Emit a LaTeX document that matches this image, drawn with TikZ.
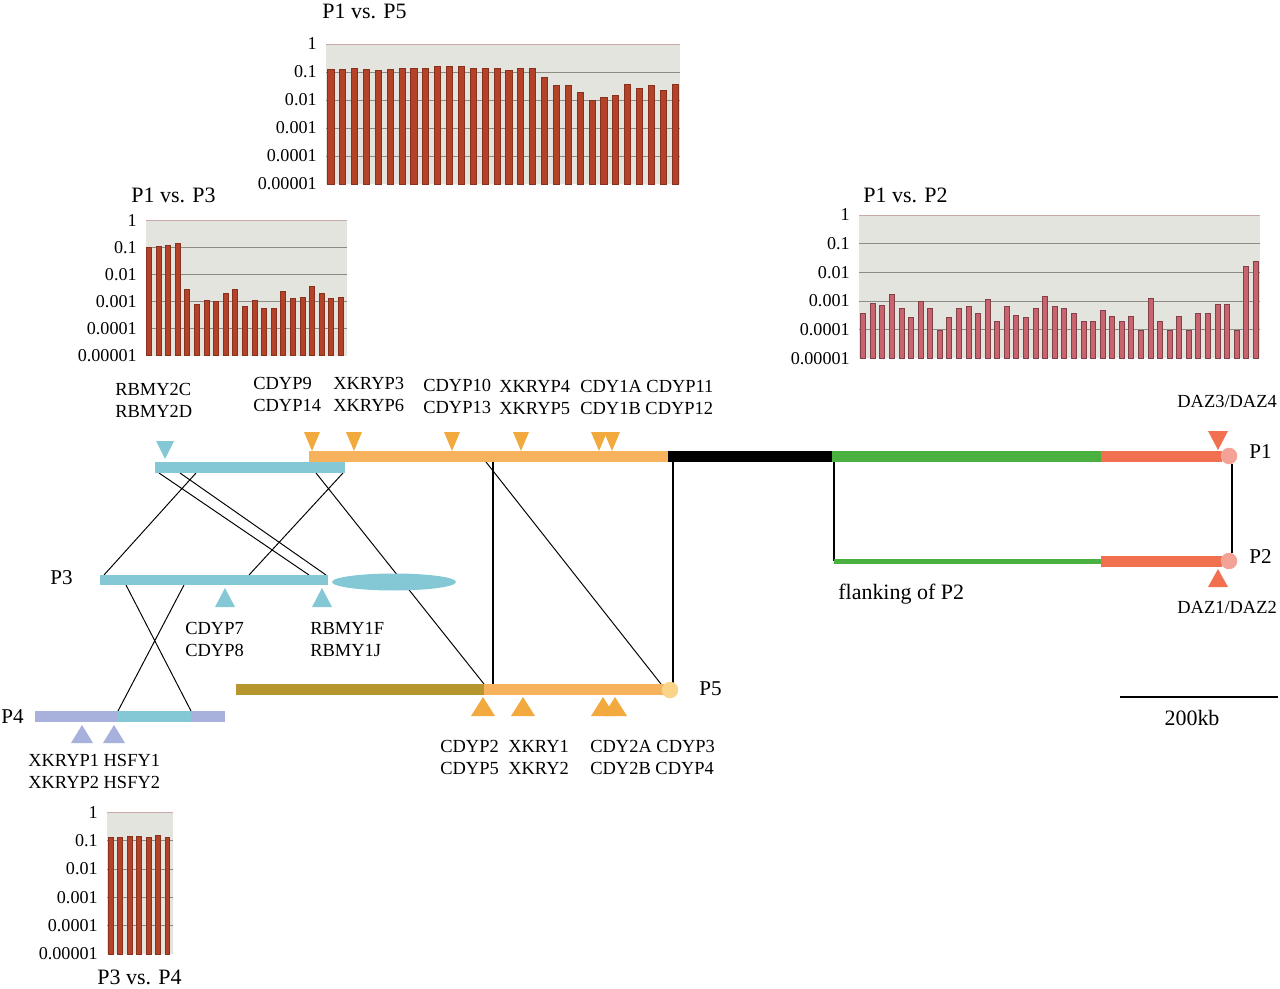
\documentclass[tikz,border=0pt]{standalone}
\usepackage{fontspec}
\setmainfont{Liberation Serif}
\usepackage{tikz}

\definecolor{rbmyblue}{RGB}{132,200,214}
\definecolor{cdyorange}{RGB}{246,178,92}
\definecolor{trorange}{RGB}{242,170,62}
\definecolor{flankgreen}{RGB}{74,176,64}
\definecolor{dazred}{RGB}{240,112,80}
\definecolor{dazpink}{RGB}{244,162,150}
\definecolor{p5olive}{RGB}{184,150,46}
\definecolor{p5cap}{RGB}{250,212,136}
\definecolor{p4lilac}{RGB}{168,176,220}
\definecolor{panelgrey}{RGB}{228,228,222}
\definecolor{gridgrey}{RGB}{140,140,132}
\definecolor{toprose}{RGB}{200,168,168}
\definecolor{barbrick}{RGB}{180,66,40}
\definecolor{barrose}{RGB}{200,100,110}

\newcommand{\logchart}[9]{%
  \fill[panel] (#1,#2) rectangle (#3,{#2+5*#4});
  \foreach \k in {1,...,4}
    \draw[gridline] (#1,{#2+\k*#4}) -- (#3,{#2+\k*#4});
  \draw[topline] (#1,#2) -- (#3,#2);
  \foreach \v [count=\i from 0] in {#8}
    \draw[#7] ({#5+\i*#6-0.26*#6},{#2+5*#4}) rectangle ({#5+\i*#6+0.26*#6},{#2+\v*#4});
  \foreach \t [count=\k from 0] in {1,0.1,0.01,0.001,0.0001,0.00001}
    \node[tick] (#9\k) at (#1-9,{#2+\k*#4}) {\t};
}

\begin{document}
\begin{tikzpicture}[x=0.02cm, y=-0.02cm,
  panel/.style={fill=panelgrey},
  gridline/.style={draw=gridgrey, line width=0.5pt},
  topline/.style={draw=toprose, line width=0.4pt},
  tick/.style={font=\fontsize{10.3}{12}\selectfont, anchor=east, inner sep=0pt},
  title/.style={font=\fontsize{12.5}{15}\selectfont, anchor=west, inner sep=0pt},
  gene/.style={font=\fontsize{10.5}{12.5}\selectfont, align=left, anchor=north west, inner sep=0pt},
  plabel/.style={font=\fontsize{12}{14}\selectfont, anchor=west, inner sep=0pt},
  brick/.style={fill=barbrick, draw=barbrick!75!black, line width=0.3pt},
  rose/.style={fill=barrose, draw=barrose!65!black, line width=0.3pt},
  link/.style={line width=0.55pt},
  joint/.style={line width=1.3pt},
  endcap/.style={circle, inner sep=0pt, minimum size=9.4pt}
]
\useasboundingbox (0,0) rectangle (1280,989);

\logchart{326}{44}{680}{28}{330.7}{11.87}{brick}{0.90,0.90,0.85,0.90,0.94,0.90,0.85,0.87,0.87,0.79,0.79,0.81,0.87,0.85,0.85,0.93,0.87,0.85,1.19,1.48,1.48,1.71,2.0,1.9,1.82,1.45,1.57,1.49,1.64,1.45}{p15t}
\logchart{146}{220.7}{347}{27}{148.7}{9.6}{brick}{0.975,0.95,0.91,0.85,2.53,3.10,2.93,2.99,2.69,2.53,3.16,2.94,3.25,3.25,2.60,2.89,2.83,2.42,2.67,2.89,2.85}{p13t}
\logchart{859}{215}{1260}{28.7}{863}{9.577}{rose}{3.44,3.09,3.14,2.76,3.26,3.56,3.00,3.26,4.03,3.56,3.26,3.17,3.43,2.95,3.72,3.17,3.49,3.56,3.26,2.83,3.17,3.26,3.43,3.72,3.72,3.33,3.53,3.72,3.53,4.02,2.91,3.69,4.02,3.53,4.02,3.42,3.42,3.10,3.10,4.00,1.79,1.60}{p12t}
\logchart{107}{812.3}{173}{28.35}{110.7}{9.43}{brick}{0.88,0.88,0.85,0.85,0.88,0.81,0.88}{p34t}

\node[title] (p15) at (322,11) {P1 vs. P5};
\node[title] (p13) at (131,195) {P1 vs. P3};
\node[title] (p12) at (863,195) {P1 vs. P2};
\node[title] (p34) at (97,977) {P3 vs. P4};

\coordinate (ub1) at (159,473);
\coordinate (ub2) at (180,473);
\coordinate (ub3) at (196,473);
\coordinate (ub4) at (316,473);
\coordinate (ub5) at (343,473);
\coordinate (p3a) at (104,575);
\coordinate (p3b) at (249,575);
\coordinate (p3c) at (309,575);
\coordinate (p3d) at (326,575);
\coordinate (p3e) at (126,585);
\coordinate (p3f) at (184,585);
\coordinate (p4a) at (118,711);
\coordinate (p4b) at (191,711);
\coordinate (ot1) at (486,462);
\coordinate (ot2) at (493,462);
\coordinate (ot3) at (673,462);
\coordinate (p5a) at (484,684);
\coordinate (p5b) at (493,684);
\coordinate (p5c) at (661,684);
\coordinate (p5d) at (673,684);
\coordinate (gtop) at (834,462);
\coordinate (gbot) at (834,561);
\coordinate (sb1) at (1120,697);
\coordinate (sb2) at (1278,697);

\draw[link] (ub1) -- (p3c) (ub2) -- (p3d) (ub3) -- (p3a) (ub5) -- (p3b)
  (ub4) -- (p5a) (p3e) -- (p4b) (p3f) -- (p4a) (ot1) -- (p5c);
\draw[joint] (ot2) -- (p5b) (ot3) -- (p5d);
\draw[joint, line width=1pt] (gtop) -- (gbot);

\fill[rbmyblue] (155,462) rectangle (345,473);
\fill[cdyorange] (309,451) rectangle (668,462);
\fill[black] (668,451) rectangle (832,462);
\fill[flankgreen] (832,451) rectangle (1101,462);
\fill[dazred] (1101,451) rectangle (1222,462);
\node[endcap, fill=dazpink] (p1cap) at (1229,456) {};
\fill[flankgreen] (834,558.5) rectangle (1101,563.5);
\fill[dazred] (1101,556) rectangle (1222,567);
\node[endcap, fill=dazpink] (p2cap) at (1229,561) {};
\draw[joint, line width=1pt] (p1cap.-70) -- (p2cap.70);

\fill[rbmyblue] (100,575) rectangle (328,585);
\fill[rbmyblue] (394,582) ellipse [x radius=1.24cm, y radius=0.17cm];
\fill[p4lilac] (35,711) rectangle (225,722);
\fill[rbmyblue] (117,711) rectangle (191,722);
\fill[p5olive] (236,684) rectangle (484,695);
\fill[cdyorange] (484,684) rectangle (666,695);
\node[endcap, fill=p5cap] (p5cap) at (670,690) {};

\fill[rbmyblue] (156,441) -- (174,441) -- (165,459) -- cycle;
\foreach \x in {312,354,452,521,599,612}
  \fill[trorange] (\x-8,432) -- (\x+8,432) -- (\x,451) -- cycle;
\fill[dazred] (1208,431) -- (1228,431) -- (1218,450) -- cycle;
\fill[dazred] (1208,587) -- (1228,587) -- (1218,569) -- cycle;
\foreach \x in {225,322}
  \fill[rbmyblue] (\x-10,607) -- (\x+10,607) -- (\x,588) -- cycle;
\foreach \x in {483,523,603,615}
  \fill[trorange] (\x-12,716) -- (\x+12,716) -- (\x,697) -- cycle;
\foreach \x in {82,114}
  \fill[p4lilac] (\x-11,743) -- (\x+11,743) -- (\x,725) -- cycle;

\node[gene] (rbmy2) at (115,383) {RBMY2C\\RBMY2D};
\node[gene] (cdyp9) at (253,377) {CDYP9\\CDYP14};
\node[gene] (xkryp3) at (333,377) {XKRYP3\\XKRYP6};
\node[gene] (cdyp10) at (423,379) {CDYP10\\CDYP13};
\node[gene] (xkryp4) at (499,380) {XKRYP4\\XKRYP5};
\node[gene] (cdy1) at (580,380) {CDY1A CDYP11\\CDY1B CDYP12};
\node[gene] (daz34) at (1177,395) {DAZ3/DAZ4};
\node[gene] (daz12) at (1177,601) {DAZ1/DAZ2};
\node[gene] (cdyp7) at (185,622) {CDYP7\\CDYP8};
\node[gene] (rbmy1) at (310,622) {RBMY1F\\RBMY1J};
\node[gene] (xkryp1) at (28,754) {XKRYP1 HSFY1\\XKRYP2 HSFY2};
\node[gene] (cdyp2) at (440,740) {CDYP2\\CDYP5};
\node[gene] (xkry1) at (508,740) {XKRY1\\XKRY2};
\node[gene] (cdy2) at (590,740) {CDY2A CDYP3\\CDY2B CDYP4};

\node[plabel] (p1) at (1249,452) {P1};
\node[plabel] (p2) at (1249,557) {P2};
\node[plabel] (p3) at (50,578) {P3};
\node[plabel] (p4) at (1,717) {P4};
\node[plabel] (p5) at (699,689) {P5};
\node[title] (flank) at (838,594) {flanking of P2};

\draw[line width=1.6pt] (sb1) -- (sb2);
\node[title, anchor=center] (kb) at (1192,718) {200kb};
\end{tikzpicture}
\end{document}
